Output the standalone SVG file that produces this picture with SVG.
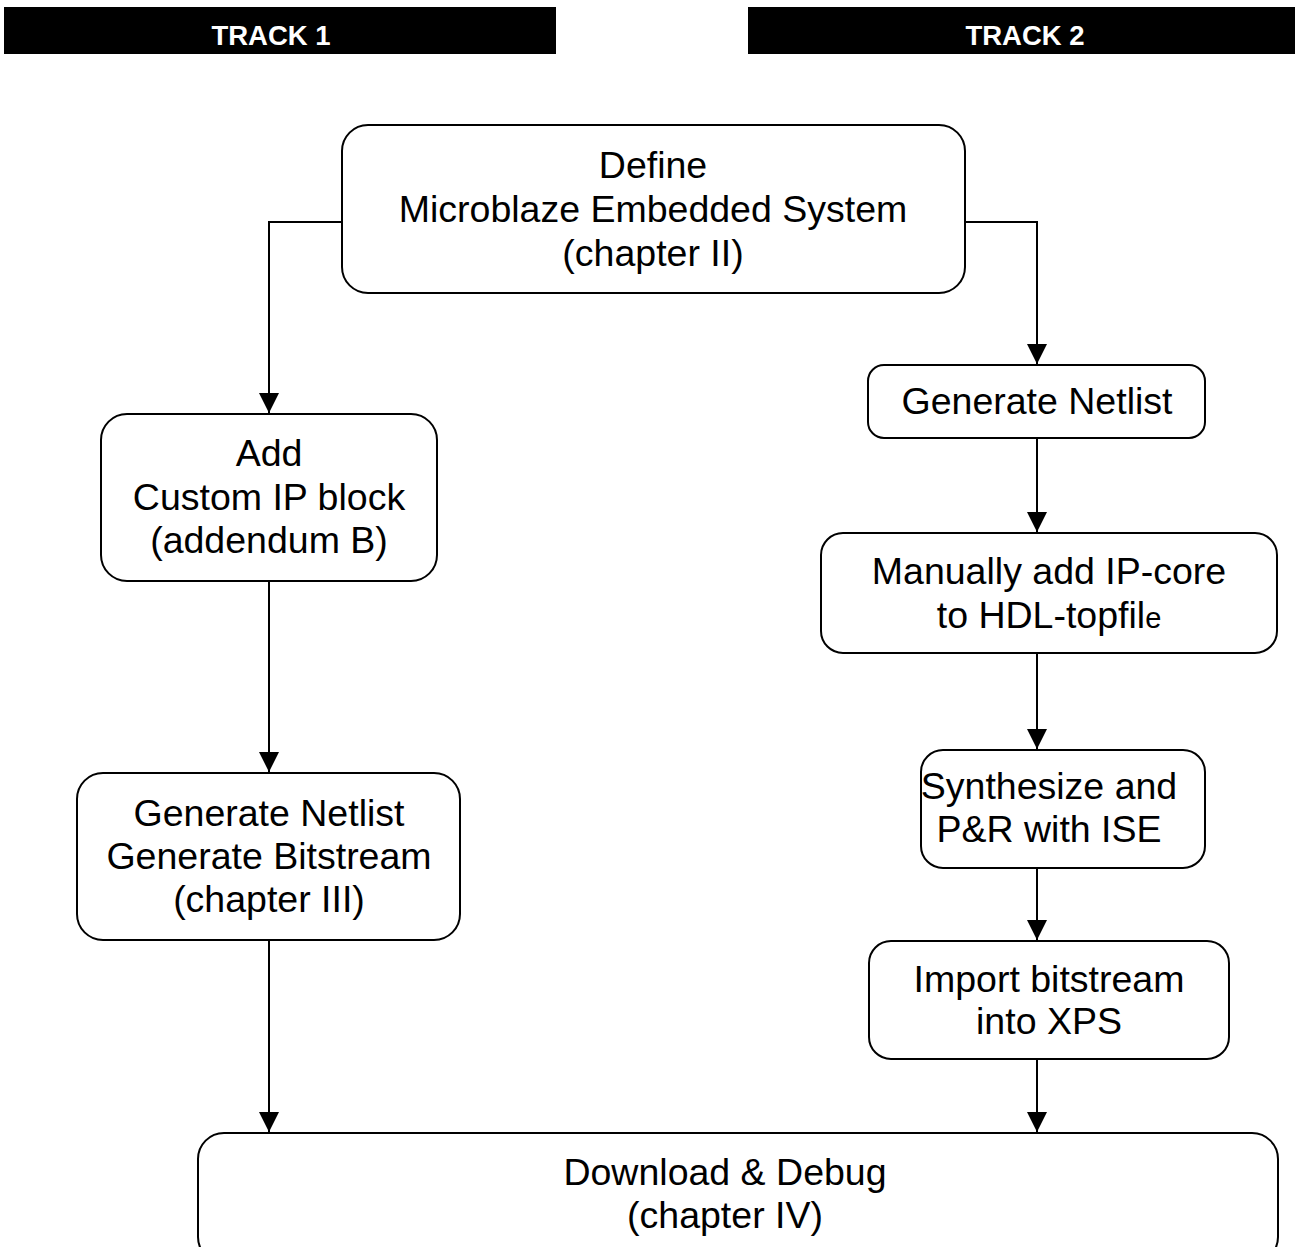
<svg xmlns="http://www.w3.org/2000/svg" width="1295" height="1247" viewBox="0 0 1295 1247">
<style>
.box{fill:#fff;stroke:#000;stroke-width:2}
.t{font-family:"Liberation Sans",Arial,sans-serif;font-size:37.5px;fill:#000;text-anchor:middle}
.hdr{font-family:"Liberation Sans",Arial,sans-serif;font-size:27.5px;font-weight:bold;fill:#fff;text-anchor:middle}
.ln{fill:none;stroke:#000;stroke-width:2}
</style>
<defs>
<marker id="arr" markerUnits="userSpaceOnUse" markerWidth="20" markerHeight="20" refX="20" refY="10" orient="auto">
<path d="M0,0 L20,10 L0,20 Z" fill="#000"/>
</marker>
</defs>
<rect width="1295" height="1247" fill="#fff"/>
<g id="track1">
<rect x="4" y="7" width="552" height="47" fill="#000"/>
<text class="hdr" x="271" y="45">TRACK 1</text>
</g>
<g id="track2">
<rect x="748" y="7" width="547" height="47" fill="#000"/>
<text class="hdr" x="1025" y="45">TRACK 2</text>
</g>
<g id="connectors">
<path class="ln" d="M342,222 H269 V413" marker-end="url(#arr)"/>
<path class="ln" d="M965,222 H1037 V364" marker-end="url(#arr)"/>
<path class="ln" d="M269,581 V772" marker-end="url(#arr)"/>
<path class="ln" d="M1037,438 V532" marker-end="url(#arr)"/>
<path class="ln" d="M1037,653 V749" marker-end="url(#arr)"/>
<path class="ln" d="M1037,868 V940" marker-end="url(#arr)"/>
<path class="ln" d="M1037,1059 V1132" marker-end="url(#arr)"/>
<path class="ln" d="M269,940 V1132" marker-end="url(#arr)"/>
</g>
<g id="define">
<rect class="box" x="342" y="125" width="623" height="168" rx="26"/>
<text class="t" x="653" y="178">Define</text>
<text class="t" x="653" y="222">Microblaze Embedded System</text>
<text class="t" x="653" y="266">(chapter II)</text>
</g>
<g id="addip">
<rect class="box" x="101" y="414" width="336" height="167" rx="26"/>
<text class="t" x="269" y="466">Add</text>
<text class="t" x="269" y="510">Custom IP block</text>
<text class="t" x="269" y="553">(addendum B)</text>
</g>
<g id="genbit">
<rect class="box" x="77" y="773" width="383" height="167" rx="26"/>
<text class="t" x="269" y="826">Generate Netlist</text>
<text class="t" x="269" y="869">Generate Bitstream</text>
<text class="t" x="269" y="912">(chapter III)</text>
</g>
<g id="gennet">
<rect class="box" x="868" y="365" width="337" height="73" rx="16"/>
<text class="t" x="1037" y="414">Generate Netlist</text>
</g>
<g id="manual">
<rect class="box" x="821" y="533" width="456" height="120" rx="22"/>
<text class="t" x="1049" y="584">Manually add IP-core</text>
<text class="t" x="1049" y="628">to HDL-topfil<tspan font-size="29">e</tspan></text>
</g>
<g id="synth">
<rect class="box" x="921" y="750" width="284" height="118" rx="22"/>
<text class="t" x="1049" y="799">Synthesize and</text>
<text class="t" x="1049" y="842">P&amp;R with ISE</text>
</g>
<g id="import">
<rect class="box" x="869" y="941" width="360" height="118" rx="22"/>
<text class="t" x="1049" y="992">Import bitstream</text>
<text class="t" x="1049" y="1034">into XPS</text>
</g>
<g id="download">
<rect class="box" x="198" y="1133" width="1080" height="130" rx="26"/>
<text class="t" x="725" y="1185">Download &amp; Debug</text>
<text class="t" x="725" y="1228">(chapter IV)</text>
</g>
</svg>
